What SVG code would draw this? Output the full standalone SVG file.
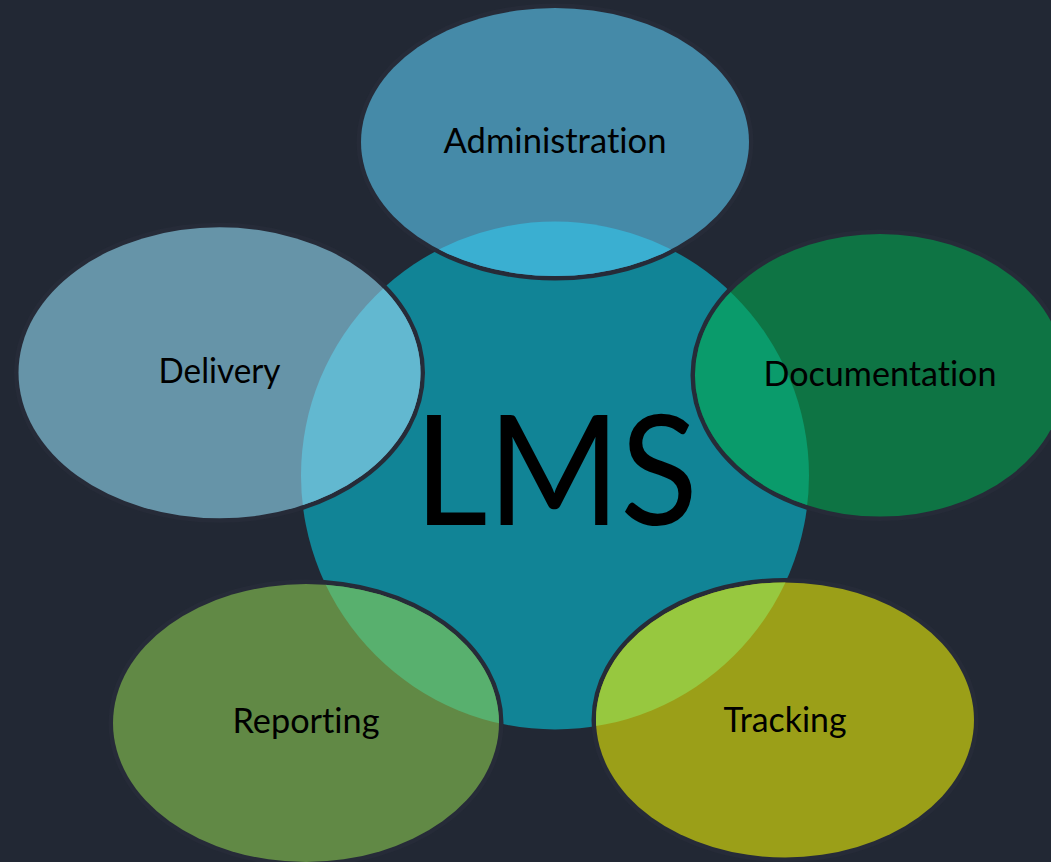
<svg xmlns="http://www.w3.org/2000/svg" width="1051" height="862" viewBox="0 0 1051 862">
<style>
.edge{fill:none;stroke:#262b38;stroke-width:7}
.lbl{font-family:Lato,"Open Sans","Noto Sans",sans-serif;font-size:34px;fill:#000;text-anchor:middle;font-variant-ligatures:none;font-feature-settings:"liga" 0}
.big{font-family:Lato,"Open Sans","Noto Sans",sans-serif;font-size:153px;fill:#000;text-anchor:middle}
</style>
<defs>
<clipPath id="cc"><circle cx="555" cy="475.5" r="254"/></clipPath>
</defs>
<rect x="0" y="0" width="1051" height="862" fill="#222834"/>
<g id="lms">
<circle cx="555" cy="475.5" r="254" fill="#118496"/>
<text class="big" x="556" y="525" textLength="284" lengthAdjust="spacingAndGlyphs">LMS</text>
</g>
<g id="administration">
<ellipse class="edge" cx="555" cy="142" rx="195" ry="135"/>
<ellipse cx="555" cy="142" rx="194" ry="134" fill="#458aa8"/>
<ellipse cx="555" cy="142" rx="194" ry="134" fill="#3aafd1" clip-path="url(#cc)"/>
<text class="lbl" x="555" y="153" textLength="223" lengthAdjust="spacingAndGlyphs">Administration</text>
</g>
<g id="delivery">
<ellipse class="edge" cx="219.5" cy="372.8" rx="202" ry="146.5"/>
<ellipse cx="219.5" cy="372.8" rx="201" ry="145.5" fill="#6694a8"/>
<ellipse cx="219.5" cy="372.8" rx="201" ry="145.5" fill="#62b8d0" clip-path="url(#cc)"/>
<text class="lbl" x="219.5" y="383" textLength="122" lengthAdjust="spacingAndGlyphs">Delivery</text>
</g>
<g id="documentation">
<ellipse class="edge" cx="880" cy="375.3" rx="186" ry="142.3"/>
<ellipse cx="880" cy="375.3" rx="185" ry="141.3" fill="#0e7444"/>
<ellipse cx="880" cy="375.3" rx="185" ry="141.3" fill="#0a9b6b" clip-path="url(#cc)"/>
<text class="lbl" x="880" y="386" textLength="233" lengthAdjust="spacingAndGlyphs">Documentation</text>
</g>
<g id="reporting">
<ellipse class="edge" cx="306" cy="723" rx="194" ry="140"/>
<ellipse cx="306" cy="723" rx="193" ry="139" fill="#618945"/>
<ellipse cx="306" cy="723" rx="193" ry="139" fill="#58b06e" clip-path="url(#cc)"/>
<text class="lbl" x="306" y="733" textLength="147" lengthAdjust="spacingAndGlyphs">Reporting</text>
</g>
<g id="tracking">
<ellipse class="edge" cx="785" cy="720" rx="190" ry="138.5"/>
<ellipse cx="785" cy="720" rx="189" ry="137.5" fill="#9b9f18"/>
<ellipse cx="785" cy="720" rx="189" ry="137.5" fill="#97c83f" clip-path="url(#cc)"/>
<text class="lbl" x="785" y="731.5" textLength="123" lengthAdjust="spacingAndGlyphs">Tracking</text>
</g>
</svg>
